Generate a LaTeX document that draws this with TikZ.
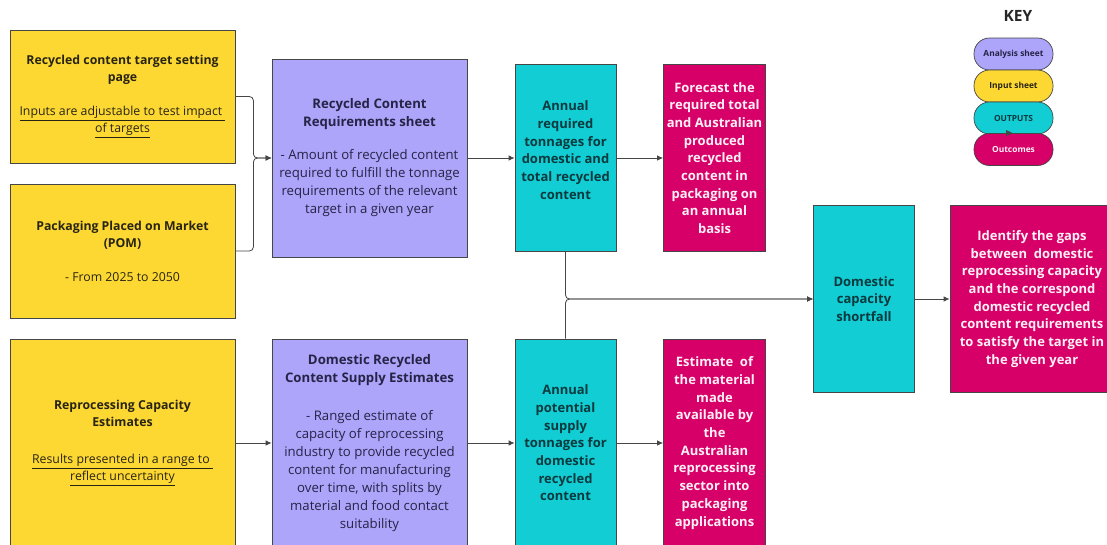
\documentclass[tikz,border=0pt]{standalone}
\usepackage{fontspec}
\setmainfont{Open Sans}
\usetikzlibrary{arrows.meta}

\definecolor{inyellow}{RGB}{253,216,51}
\definecolor{anviolet}{RGB}{172,165,250}
\definecolor{outcyan}{RGB}{18,205,212}
\definecolor{resmagenta}{RGB}{214,0,104}
\definecolor{edgegray}{RGB}{70,70,70}
\definecolor{yeltext}{RGB}{40,36,20}
\definecolor{viotext}{RGB}{38,36,70}
\definecolor{cyantext}{RGB}{10,58,62}
\definecolor{magtext}{RGB}{255,240,246}

\tikzset{
  card/.style={draw=edgegray, line width=0.8pt, rectangle, align=center,
    inner sep=0pt},
  inputbox/.style={card, fill=inyellow, text=yeltext, font=\fontsize{12.3}{17}\selectfont},
  sheetbox/.style={card, fill=anviolet, text=viotext, font=\fontsize{13.2}{18}\selectfont},
  outbox/.style={card, fill=outcyan, text=cyantext, font=\fontsize{13}{17.7}\selectfont\bfseries},
  resultbox/.style={card, fill=resmagenta, text=magtext, font=\fontsize{13}{17.7}\selectfont\bfseries},
  pill/.style={draw=edgegray, line width=0.7pt, rounded corners=15.5pt,
    minimum width=79, minimum height=32, inner sep=0pt,
    font=\fontsize{8.4}{9}\selectfont\bfseries},
  link/.style={draw=edgegray, line width=0.8pt, rounded corners=4pt,
    -{Latex[length=6pt,width=5.5pt]}},
}
\newcommand{\ul}[1]{\underline{#1}}

\begin{document}
\begin{tikzpicture}[x=1pt,y=-1pt]
\useasboundingbox[fill=white] (0,0) rectangle (1107,544);

% input sheets
\node[inputbox, minimum width=225, minimum height=133] (target) at (122.5,96.5)
  {\textbf{Recycled content target setting}\\ \textbf{page}\\[17pt]
   \ul{Inputs are adjustable to test impact\ }\\ \ul{of targets}};
\node[inputbox, minimum width=225, minimum height=134] (pom) at (122.5,251)
  {\textbf{Packaging Placed on Market}\\ \textbf{(POM)}\\[17pt] - From 2025 to 2050};
\node[inputbox, minimum width=225, minimum height=208] (reproc) at (122.5,443)
  {\textbf{Reprocessing Capacity}\\ \textbf{Estimates}\\[20pt]
   \ul{Results presented in a range to\ }\\ \ul{reflect uncertainty}};

% analysis sheets
\node[sheetbox, minimum width=195, minimum height=198] (reqsheet) at (369.5,158)
  {\textbf{Recycled Content}\\ \textbf{Requirements sheet}\\[15pt]
   - Amount of recycled content\\ required to fulfill the tonnage\\
   requirements of the relevant\\ target in a given year};
\node[sheetbox, minimum width=195, minimum height=208] (supsheet) at (369.5,443)
  {\textbf{Domestic Recycled}\\ \textbf{Content Supply Estimates}\\[20pt]
   - Ranged estimate of\\ capacity of reprocessing\\ industry to provide recycled\\
   content for manufacturing\\ over time, with splits by\\ material and food contact\\ suitability};

% outputs
\node[outbox, minimum width=101, minimum height=187] (reqton) at (565.5,158) {};
\node[outbox, anchor=center, draw=none, fill=none] (reqtontext) at (565.5,150)
  {Annual\\ required\\ tonnages for\\ domestic and\\ total recycled\\ content};
\node[outbox, minimum width=101, minimum height=208] (supton) at (565.5,443)
  {Annual\\ potential\\ supply\\ tonnages for\\ domestic\\ recycled\\ content};
\node[outbox, minimum width=101, minimum height=187] (shortfall) at (864,299)
  {Domestic\\ capacity\\ shortfall};

% outcomes
\node[resultbox, minimum width=102, minimum height=187] (forecast) at (714.5,158)
  {Forecast the\\ required total\\ and Australian\\ produced\\ recycled\\ content in\\ packaging on\\ an annual\\ basis};
\node[resultbox, minimum width=102, minimum height=208] (estimate) at (714.5,443)
  {Estimate\ \ of\\ the material\\ made\\ available by\\ the\\ Australian\\ reprocessing\\ sector into\\ packaging\\ applications};
\node[resultbox, minimum width=164, minimum height=187] (gaps) at (1032,299)
  {Identify the gaps\\ between\ \ domestic\\ reprocessing capacity\\ and the correspond\\ domestic recycled\\ content requirements\\ to satisfy the target in\\ the given year};

% connectors
\draw[link] (target.east) -- ++(18,0) |- (reqsheet.west);
\draw[link] (pom.east) -- ++(18,0) |- (reqsheet.west);
\draw[link] (reqsheet.east) -- (reqton.west);
\draw[link] (reqton.east) -- (forecast.west);
\draw[link] (reproc.east) -- (supsheet.west);
\draw[link] (supsheet.east) -- (supton.west);
\draw[link] (supton.east) -- (estimate.west);
\draw[link] (reqton.south) |- (shortfall.west);
\draw[link] (supton.north) |- (shortfall.west);
\draw[link] (shortfall.east) -- (gaps.west);

% key
\node[font=\fontsize{15.5}{17}\selectfont\bfseries, text=black!85] (keytitle) at (1018,16) {KEY};
\node[pill, fill=anviolet, text=viotext] (keyan) at (1013.5,54) {Analysis sheet};
\node[pill, fill=inyellow, text=yeltext] (keyin) at (1013.5,86) {Input sheet};
\node[pill, fill=outcyan, text=cyantext] (keyout) at (1013.5,118) {OUTPUTS};
\node[pill, fill=resmagenta, text=magtext] (keyres) at (1013.5,149.5) {Outcomes};
\fill[edgegray] (1006,130) -- (1012.5,133) -- (1006,136) -- cycle;
\end{tikzpicture}
\end{document}
